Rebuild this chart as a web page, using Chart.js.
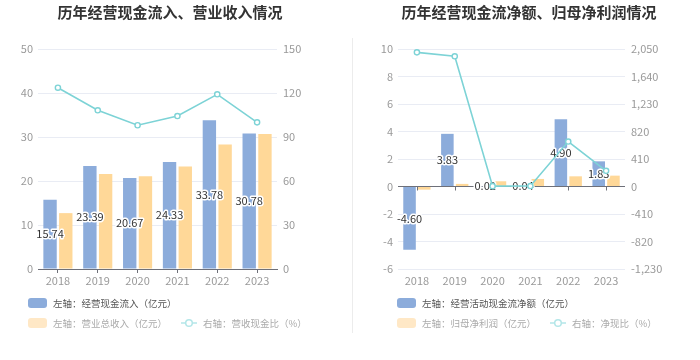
<!DOCTYPE html>
<html lang="zh">
<head>
<meta charset="utf-8">
<title>历年经营现金流</title>
<script src="https://cdn.jsdelivr.net/npm/chart.js@4.4.1/dist/chart.umd.min.js"></script>
<style>
  html, body { margin: 0; padding: 0; background: #fff; }
  body {
    width: 700px; height: 360px; position: relative; overflow: hidden;
    font-family: "Noto Sans CJK SC", "Noto Sans", sans-serif;
  }
  .panel { position: absolute; top: 0; width: 350px; height: 360px; }
  .title {
    position: absolute; top: 1px; font-size: 15px; font-weight: bold;
    color: #333; text-align: center; line-height: 22px; white-space: nowrap;
  }
  .sep { position: absolute; left: 352px; top: 38px; width: 1px; height: 295px; background: #ececec; }
  .legend { position: absolute; top: 297px; font-size: 9.5px; }
  .row { display: flex; align-items: center; height: 12px; margin-bottom: 7.5px; white-space: nowrap; }
  .sw { width: 19px; height: 10px; border-radius: 3px; margin-right: 6px; }
  .gap { width: 14px; }
  .ln { margin-right: 6px; }
</style>
</head>
<body>
<div class="panel" style="left:0">
  <div class="title" style="left:0;width:340px">历年经营现金流入、营业收入情况</div>
  <canvas id="c1" width="350" height="360"></canvas>
  <div class="legend" style="left:28px">
    <div class="row" style="color:#555">
      <span class="sw" style="background:#8cacdb"></span>左轴：经营现金流入（亿元）
    </div>
    <div class="row" style="color:#aaa">
      <span class="sw" style="background:#ffe8c6"></span>左轴：营业总收入（亿元）
      <span class="gap"></span>
      <svg class="ln" width="16" height="10"><line x1="0" y1="5" x2="16" y2="5" stroke="#b3e6e8" stroke-width="1.5"/><circle cx="8" cy="5" r="3.3" fill="#fff" stroke="#b3e6e8" stroke-width="1.5"/></svg>右轴：营收现金比（%）
    </div>
  </div>
</div>
<div class="sep"></div>
<div class="panel" style="left:350px">
  <div class="title" style="left:8px;width:342px">历年经营现金流净额、归母净利润情况</div>
  <canvas id="c2" width="350" height="360"></canvas>
  <div class="legend" style="left:47px">
    <div class="row" style="color:#555">
      <span class="sw" style="background:#8cacdb"></span>左轴：经营活动现金流净额（亿元）
    </div>
    <div class="row" style="color:#aaa">
      <span class="sw" style="background:#ffe8c6"></span>左轴：归母净利润（亿元）
      <span class="gap"></span>
      <svg class="ln" width="16" height="10"><line x1="0" y1="5" x2="16" y2="5" stroke="#b3e6e8" stroke-width="1.5"/><circle cx="8" cy="5" r="3.3" fill="#fff" stroke="#b3e6e8" stroke-width="1.5"/></svg>右轴：净现比（%）
    </div>
  </div>
</div>

<script>
// ── Data ──────────────────────────────────────────────────────────────
const years = ["2018", "2019", "2020", "2021", "2022", "2023"];

// left chart: 亿元 / %
const cashIn = [15.74, 23.39, 20.67, 24.33, 33.78, 30.78];
const revenue = [12.7, 21.6, 21.1, 23.3, 28.3, 30.7];
const cashRatio = [123.6, 108.2, 98.0, 104.3, 119.1, 100.0];

// right chart: 亿元 / %
const netCash = [-4.6, 3.83, 0.02, 0.04, 4.9, 1.83];
const netProfit = [-0.23, 0.19, 0.38, 0.55, 0.74, 0.79];
const netRatio = [2000, 1941, 5, 7, 670, 234];

const BLUE = "#8cacdb";
const ORANGE = "#ffd898";
const CYAN = "#7dd3d6";
const GRID = "#e9ecf4";
const AXIS = "#6e7079";
const TICK = "#999";
const FONT = "'Noto Sans CJK SC', 'Noto Sans', sans-serif";

Chart.defaults.font.family = FONT;
Chart.defaults.color = TICK;

// values in the middle of the first bar series, white halo like the original
const barLabels = {
  id: "barLabels",
  afterDatasetDraw(chart, args) {
    if (args.index !== 0) return;
    const ctx = chart.ctx;
    const vals = chart.data.datasets[0].data;
    ctx.save();
    ctx.font = "11px " + FONT;
    ctx.textAlign = "center";
    ctx.textBaseline = "middle";
    ctx.lineJoin = "round";
    ctx.lineWidth = 3;
    ctx.strokeStyle = "#fff";
    ctx.fillStyle = "#333";
    args.meta.data.forEach((bar, i) => {
      const { x, y, base } = bar.getProps(["x", "y", "base"], true);
      const t = vals[i].toFixed(2);
      const ym = (y + base) / 2;
      ctx.strokeText(t, x, ym);
      ctx.fillText(t, x, ym);
    });
    ctx.restore();
  },
};

// small category ticks hanging under the zero line (right chart only)
const zeroTicks = {
  id: "zeroTicks",
  beforeDatasetsDraw(chart) {
    const xs = chart.scales.x;
    const y0 = chart.scales.y.getPixelForValue(0);
    const ctx = chart.ctx;
    ctx.save();
    ctx.strokeStyle = AXIS;
    ctx.lineWidth = 1;
    years.forEach((_, i) => {
      const x = Math.round(xs.getPixelForValue(i)) + 0.5;
      ctx.beginPath();
      ctx.moveTo(x, y0);
      ctx.lineTo(x, y0 + 4);
      ctx.stroke();
    });
    ctx.restore();
  },
};

function makeChart(id, o) {
  return new Chart(document.getElementById(id), {
    type: "bar",
    data: {
      labels: years,
      datasets: [
        {
          label: o.names[0],
          data: o.bar1,
          backgroundColor: BLUE,
          yAxisID: "y",
          order: 1,
          categoryPercentage: o.cp,
          barPercentage: 0.85,
        },
        {
          label: o.names[1],
          data: o.bar2,
          backgroundColor: ORANGE,
          yAxisID: "y",
          order: 1,
          categoryPercentage: o.cp,
          barPercentage: 0.85,
        },
        {
          type: "line",
          label: o.names[2],
          data: o.line,
          yAxisID: "y1",
          order: 0,
          borderColor: CYAN,
          borderWidth: 1.6,
          pointRadius: 2.6,
          pointBackgroundColor: "#fff",
          pointBorderColor: CYAN,
          pointBorderWidth: 1.4,
          tension: 0,
        },
      ],
    },
    options: {
      responsive: false,
      animation: false,
      layout: { padding: { left: 0, right: 0, top: 49, bottom: 71 } },
      plugins: { legend: { display: false }, tooltip: { enabled: false } },
      scales: {
        x: {
          afterFit: (s) => { s.height = 20; },
          border: { display: o.xBorder, color: AXIS },
          grid: {
            display: o.xBorder,
            drawOnChartArea: false,
            drawTicks: o.xBorder,
            tickLength: 4,
            offset: false,
            color: AXIS,
          },
          ticks: { color: TICK, font: { size: 11 }, padding: o.xBorder ? 1 : 5 },
        },
        y: {
          position: "left",
          min: o.yMin,
          max: o.yMax,
          afterFit: (s) => { s.width = o.yW; },
          border: { display: false },
          grid: {
            color: (c) => (c.tick && c.tick.value === 0 ? AXIS : GRID),
            drawTicks: false,
          },
          ticks: { stepSize: o.yStep, color: TICK, font: { size: 11 }, padding: 5 },
        },
        y1: {
          position: "right",
          min: o.y1Min,
          max: o.y1Max,
          afterFit: (s) => { s.width = o.y1W; },
          border: { display: false },
          grid: { display: false, drawTicks: false },
          ticks: { stepSize: o.y1Step, color: TICK, font: { size: 11 }, padding: 6 },
        },
      },
    },
    plugins: o.xBorder ? [barLabels] : [barLabels, zeroTicks],
  });
}

makeChart("c1", {
  names: ["经营现金流入", "营业总收入", "营收现金比"],
  bar1: cashIn,
  bar2: revenue,
  line: cashRatio,
  cp: 0.79,
  xBorder: true,
  yMin: 0, yMax: 50, yStep: 10, yW: 38,
  y1Min: 0, y1Max: 150, y1Step: 30, y1W: 73,
});

makeChart("c2", {
  names: ["经营活动现金流净额", "归母净利润", "净现比"],
  bar1: netCash,
  bar2: netProfit,
  line: netRatio,
  cp: 0.78,
  xBorder: false,
  yMin: -6, yMax: 10, yStep: 2, yW: 48,
  y1Min: -1230, y1Max: 2050, y1Step: 410, y1W: 75,
});
</script>
</body>
</html>
